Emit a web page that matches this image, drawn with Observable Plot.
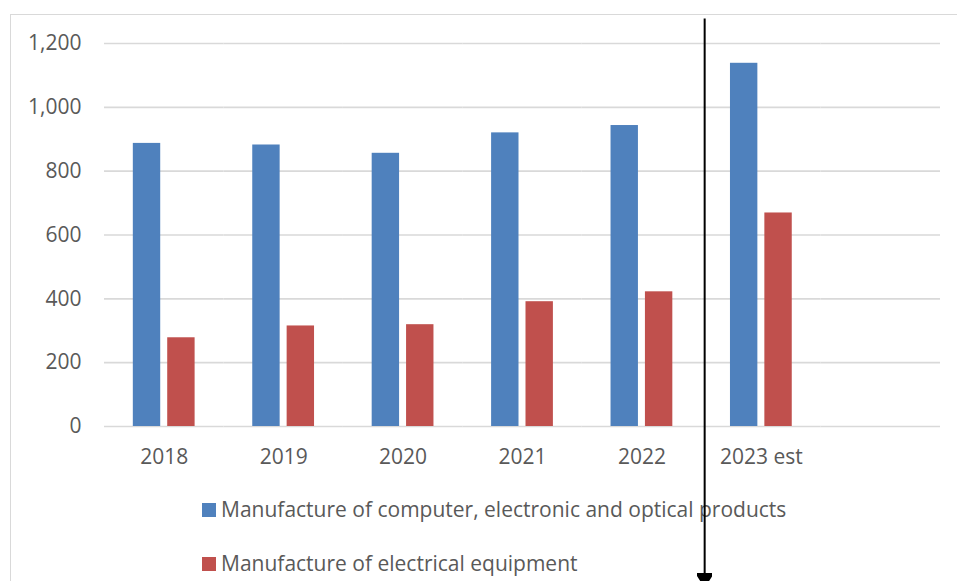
<!DOCTYPE html>
<html><head><meta charset="utf-8">
<script src="https://cdn.jsdelivr.net/npm/d3@7"></script>
<script src="https://cdn.jsdelivr.net/npm/@observablehq/plot@0.6"></script>
<style>
body{margin:0;background:#fff;}
#wrap{position:relative;width:957px;height:581px;overflow:hidden;font-family:"Open Sans",sans-serif;}
#border{position:absolute;left:10px;top:14px;width:1000px;height:1000px;border:1.5px solid #d9d9d9;}
.sw{position:absolute;left:202px;width:14px;height:14px;}
.lt{position:absolute;left:221px;font-size:21px;line-height:24px;color:#595959;white-space:nowrap;}
#chart{position:absolute;left:0;top:0;}
</style></head>
<body>
<div id="wrap">
  <div id="border"></div>
  <div id="legend"></div>
  <div id="chart"></div>
</div>
<script>
const years = ["2018", "2019", "2020", "2021", "2022", "2023 est"];
const slots = [...years, ""];
const seriesNames = ["Manufacture of computer, electronic and optical products", "Manufacture of electrical equipment"];
const computerValues = [887, 882, 856, 920, 943, 1138];
const electricalValues = [278, 315, 319, 391, 422, 669];
const colors = ["#4F81BD", "#C0504D"];
const yTicks = [0, 200, 400, 600, 800, 1000, 1200];
const arrowYear = "2023 est";
const arrowTop = 1278, arrowBottom = -460;

const rows = years.flatMap((year, i) => [
  {year, series: seriesNames[0], value: computerValues[i]},
  {year, series: seriesNames[1], value: electricalValues[i]}
]);
const gridRows = slots.flatMap((slot) => yTicks.map((t) => ({slot, t})));

// legend
const legend = document.getElementById("legend");
const legendTops = [503, 557];
seriesNames.forEach((name, i) => {
  const sw = document.createElement("div");
  sw.className = "sw"; sw.style.top = legendTops[i] + "px"; sw.style.background = colors[i];
  const t = document.createElement("div");
  t.className = "lt"; t.style.top = (legendTops[i] - 6) + "px"; t.textContent = name;
  legend.appendChild(sw); legend.appendChild(t);
});

function triangleMarker(color, context) {
  const ns = "http://www.w3.org/2000/svg";
  const m = context.document.createElementNS(ns, "marker");
  m.setAttribute("viewBox", "0 0 10 10");
  m.setAttribute("markerUnits", "userSpaceOnUse");
  m.setAttribute("markerWidth", 15);
  m.setAttribute("markerHeight", 15);
  m.setAttribute("refX", 0);
  m.setAttribute("refY", 5);
  m.setAttribute("orient", "auto");
  const p = context.document.createElementNS(ns, "path");
  p.setAttribute("d", "M0,0L8,5L0,10Z");
  p.setAttribute("fill", color);
  m.appendChild(p);
  return m;
}

const chart = Plot.plot({
  width: 957,
  height: 581,
  marginLeft: 104,
  marginRight: 17,
  marginTop: 43,
  marginBottom: 155,
  style: {fontFamily: "'Open Sans', sans-serif", fontSize: "21px", color: "#595959", background: "transparent", overflow: "visible"},
  fx: {domain: slots, padding: 0, label: null, axis: "bottom", tickSize: 0, tickPadding: 23, round: false},
  x: {domain: seriesNames, axis: null, paddingInner: 0.2035, paddingOuter: 0.838, round: false},
  y: {domain: [0, 1200], ticks: yTicks, tickFormat: d3.format(","), tickSize: 0, tickPadding: 23, label: null},
  color: {domain: seriesNames, range: colors},
  marks: [
    Plot.ruleY(gridRows, {fx: "slot", y: "t", stroke: "#d9d9d9", strokeWidth: 1.6}),
    Plot.barY(rows, {fx: "year", x: "series", y: "value", fill: "series"}),
    Plot.link([{year: arrowYear}], {
      fx: "year",
      x1: () => seriesNames[0], x2: () => seriesNames[0],
      y1: () => arrowTop, y2: () => arrowBottom,
      dx: -39.5,
      stroke: "#000", strokeWidth: 2,
      markerEnd: triangleMarker
    })
  ]
});
document.getElementById("chart").appendChild(chart);
</script>
</body></html>
